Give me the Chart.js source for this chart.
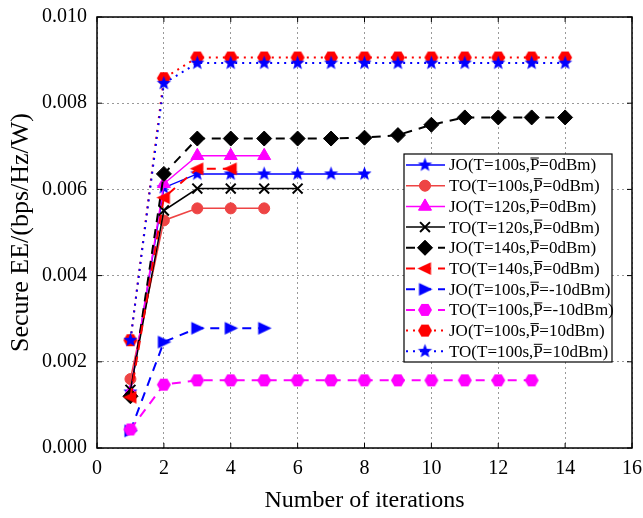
<!DOCTYPE html>
<html>
<head>
<meta charset="utf-8">
<script src="https://cdn.jsdelivr.net/npm/chart.js@4/dist/chart.umd.min.js"></script>
<style>
  body { margin: 0; background: #fff; }
  canvas { display: block; }
</style>
</head>
<body>
<canvas id="eeChart" width="643" height="518"></canvas>
<script>
// values, index i -> iteration i+1
const xTicks = [0, 2, 4, 6, 8, 10, 12, 14, 16];
const yTicks = [0, 0.002, 0.004, 0.006, 0.008, 0.010];

const labels = [
    "JO(T=100s,P\u0305=0dBm)",
    "TO(T=100s,P\u0305=0dBm)",
    "JO(T=120s,P\u0305=0dBm)",
    "TO(T=120s,P\u0305=0dBm)",
    "JO(T=140s,P\u0305=0dBm)",
    "TO(T=140s,P\u0305=0dBm)",
    "JO(T=100s,P\u0305=-10dBm)",
    "TO(T=100s,P\u0305=-10dBm)",
    "JO(T=100s,P\u0305=10dBm)",
    "TO(T=100s,P\u0305=10dBm)"
];

const joT100 = [0.0013, 0.00604, 0.00636, 0.00636, 0.00636, 0.00636, 0.00636, 0.00636];
const toT100 = [0.0016, 0.00528, 0.00556, 0.00556, 0.00556];
const joT120 = [0.0013, 0.00613, 0.00678, 0.00678, 0.00678];
const toT120 = [0.00135, 0.00551, 0.00602, 0.00602, 0.00602, 0.00602];
const joT140 = [0.0012, 0.00636, 0.00718, 0.00718, 0.00718, 0.00718, 0.00718, 0.0072, 0.00726, 0.0075, 0.00767, 0.00767, 0.00767, 0.00767];
const toT140 = [0.00118, 0.00581, 0.00648, 0.00648];
const joPm10 = [0.0004, 0.00246, 0.00278, 0.00278, 0.00278];
const toPm10 = [0.00043, 0.00147, 0.00157, 0.00157, 0.00157, 0.00157, 0.00157, 0.00157, 0.00157, 0.00157, 0.00157, 0.00157, 0.00157];
const joP10 = [0.0025, 0.00858, 0.00906, 0.00906, 0.00906, 0.00906, 0.00906, 0.00906, 0.00906, 0.00906, 0.00906, 0.00906, 0.00906, 0.00906];
const toP10 = [0.0025, 0.00846, 0.00893, 0.00893, 0.00893, 0.00893, 0.00893, 0.00893, 0.00893, 0.00893, 0.00893, 0.00893, 0.00893, 0.00893];

const SERIF = "'Liberation Serif', 'Times New Roman', serif";

function makeMarker(shape, color, r)
{
    let c = document.createElement('canvas');
    let s = Math.ceil(2 * r + 2);
    c.width = s;
    c.height = s;
    let g = c.getContext('2d');
    g.translate(s / 2, s / 2);
    g.fillStyle = color;
    g.beginPath();
    if (shape === 'star') {
        for (let k = 0; k < 10; k++) {
            let rr = k % 2 === 0 ? r : r * 0.42;
            let a = -Math.PI / 2 + k * Math.PI / 5;
            g.lineTo(rr * Math.cos(a), rr * Math.sin(a));
        }
    } else if (shape === 'hex') {
        for (let k = 0; k < 6; k++) {
            let a = k * Math.PI / 3;
            g.lineTo(r * Math.cos(a), r * Math.sin(a));
        }
    } else if (shape === 'left') {
        g.moveTo(-r, 0);
        g.lineTo(r * 0.8, -r * 0.85);
        g.lineTo(r * 0.8, r * 0.85);
    } else if (shape === 'right') {
        g.moveTo(r, 0);
        g.lineTo(-r * 0.8, -r * 0.85);
        g.lineTo(-r * 0.8, r * 0.85);
    }
    g.closePath();
    g.fill();
    return c;
}

function pts(arr)
{
    return arr.map((v, i) => ({ x: i + 1, y: v }));
}

const dashed = [9, 7];
const dotted = [2, 5];

const series = [
    { data: joT100, color: '#0000ff', dash: [], style: makeMarker('star', '#0000ff', 7.5), width: 1.5 },
    { data: toT100, color: '#ee4444', dash: [], style: 'circle', radius: 5.5, width: 1.5 },
    { data: joT120, color: '#ff00ff', dash: [], style: 'triangle', radius: 7.5, width: 1.5 },
    { data: toT120, color: '#000000', dash: [], style: 'crossRot', radius: 7, width: 1.5 },
    { data: joT140, color: '#000000', dash: dashed, style: 'rectRot', radius: 7.5, width: 2 },
    { data: toT140, color: '#ff0000', dash: dashed, style: makeMarker('left', '#ff0000', 7.5), width: 2 },
    { data: joPm10, color: '#0000ff', dash: dashed, style: makeMarker('right', '#0000ff', 7.5), width: 2 },
    { data: toPm10, color: '#ff00ff', dash: dashed, style: makeMarker('hex', '#ff00ff', 7), width: 2 },
    { data: joP10, color: '#ff0000', dash: dotted, style: makeMarker('hex', '#ff0000', 7), width: 2 },
    { data: toP10, color: '#0000ff', dash: dotted, style: makeMarker('star', '#0000ff', 7.5), width: 2 }
];

const datasets = series.map((s, i) => ({
    label: labels[i],
    data: pts(s.data),
    borderColor: s.color,
    backgroundColor: s.color,
    borderWidth: s.width,
    borderDash: s.dash,
    pointStyle: s.style,
    pointRadius: s.radius || 7,
    pointBorderWidth: s.style === 'crossRot' ? 2 : 1,
    pointBorderColor: s.color,
    pointBackgroundColor: s.color,
    tension: 0,
    fill: false,
    order: -i
}));

// black box round the plot plus inward ticks
const framePlugin = {
    id: 'frame',
    afterDatasetsDraw(chart)
    {
        let ctx = chart.ctx;
        let a = chart.chartArea;
        let xs = chart.scales.x;
        let ys = chart.scales.y;
        ctx.save();
        ctx.strokeStyle = '#000';
        ctx.lineWidth = 1.5;
        ctx.setLineDash([]);
        ctx.strokeRect(a.left, a.top, a.right - a.left, a.bottom - a.top);
        ctx.lineWidth = 1;
        ctx.beginPath();
        xTicks.forEach(t => {
            let px = xs.getPixelForValue(t);
            ctx.moveTo(px, a.bottom); ctx.lineTo(px, a.bottom - 5);
            ctx.moveTo(px, a.top); ctx.lineTo(px, a.top + 5);
        });
        yTicks.forEach(t => {
            let py = ys.getPixelForValue(t);
            ctx.moveTo(a.left, py); ctx.lineTo(a.left + 5, py);
            ctx.moveTo(a.right, py); ctx.lineTo(a.right - 5, py);
        });
        ctx.stroke();
        ctx.restore();
    },
    afterDraw(chart)
    {
        // legend box, drawn by hand so each entry gets line + marker
        let ctx = chart.ctx;
        let bx = 404, by = 154, bw = 208, bh = 208;
        ctx.save();
        ctx.fillStyle = '#fff';
        ctx.fillRect(bx, by, bw, bh);
        ctx.strokeStyle = '#000';
        ctx.lineWidth = 1.2;
        ctx.setLineDash([]);
        ctx.strokeRect(bx, by, bw, bh);
        ctx.font = '17px ' + SERIF;
        ctx.textBaseline = 'middle';
        series.forEach((s, i) => {
            let y = 165 + i * 20.7;
            ctx.strokeStyle = s.color;
            ctx.lineWidth = s.width;
            ctx.setLineDash(s.dash);
            ctx.beginPath();
            ctx.moveTo(406, y);
            ctx.lineTo(445, y);
            ctx.stroke();
            ctx.setLineDash([]);
            ctx.fillStyle = s.color;
            ctx.strokeStyle = s.color;
            ctx.lineWidth = s.style === 'crossRot' ? 2 : 1;
            Chart.helpers.drawPoint(ctx, { pointStyle: s.style, radius: s.radius || 7, rotation: 0, borderWidth: ctx.lineWidth }, 425, y);
            if (s.style !== 'crossRot') {
                ctx.fill();
            }
            // text with an overline on the P
            let parts = labels[i].split('P\u0305');
            ctx.fillStyle = '#000';
            ctx.textAlign = 'left';
            let tx = 449;
            ctx.fillText(parts[0] + 'P', tx, y + 1);
            let w0 = ctx.measureText(parts[0]).width;
            let wp = ctx.measureText('P').width;
            ctx.strokeStyle = '#000';
            ctx.lineWidth = 1;
            ctx.beginPath();
            ctx.moveTo(tx + w0 + 0.5, y - 7);
            ctx.lineTo(tx + w0 + wp - 0.5, y - 7);
            ctx.stroke();
            ctx.fillText(parts[1], tx + w0 + wp, y + 1);
        });
        ctx.restore();
    }
};

let ctx = document.getElementById('eeChart').getContext('2d');
let eeChart = new Chart(ctx, {
    type: 'line',
    data: { datasets: datasets },
    options: {
        responsive: false,
        animation: false,
        layout: { padding: { left: 0, top: 17, right: 11, bottom: 0 } },
        plugins: {
            legend: { display: false },
            tooltip: { enabled: false }
        },
        scales: {
            x: {
                type: 'linear',
                min: 0,
                max: 16,
                afterFit: s => { s.height = 70; s.paddingLeft = 0; s.paddingRight = 0; },
                afterBuildTicks: s => { s.ticks = xTicks.map(v => ({ value: v })); },
                grid: { color: '#999', lineWidth: 1, drawTicks: false },
                border: { display: false, dash: [2, 3] },
                ticks: { color: '#000', padding: 9, font: { family: SERIF, size: 20 } },
                title: {
                    display: true,
                    text: 'Number of iterations',
                    color: '#000',
                    font: { family: SERIF, size: 24 },
                    padding: { top: 0, bottom: 3 }
                }
            },
            y: {
                min: 0,
                max: 0.010,
                afterFit: s => { s.width = 97; s.paddingTop = 0; s.paddingBottom = 0; },
                afterBuildTicks: s => { s.ticks = yTicks.map(v => ({ value: v })); },
                grid: { color: '#999', lineWidth: 1, drawTicks: false },
                border: { display: false, dash: [2, 3] },
                ticks: {
                    color: '#000',
                    padding: 10,
                    font: { family: SERIF, size: 20 },
                    callback: v => v.toFixed(3)
                },
                title: {
                    display: true,
                    text: 'Secure EE/(bps/Hz/W)',
                    color: '#000',
                    font: { family: SERIF, size: 26 },
                    padding: { top: 6, bottom: 0 }
                }
            }
        }
    },
    plugins: [framePlugin]
});
</script>
</body>
</html>
